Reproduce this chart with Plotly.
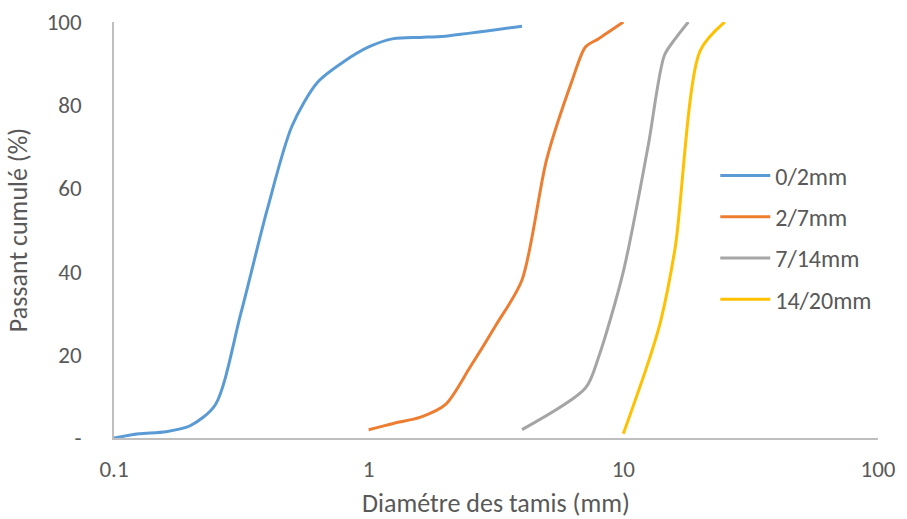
import plotly.graph_objects as go

# Data
sieve_0_2 = [0.1, 0.125, 0.16, 0.2, 0.25, 0.315, 0.4, 0.5, 0.63, 0.8, 1, 1.25, 1.6, 2, 4]
pass_0_2 = [0, 1, 1.5, 3, 8, 30, 55, 75, 85.5, 90.5, 94, 96, 96.3, 96.6, 99]

sieve_2_7 = [1, 1.25, 1.6, 2, 2.5, 3.15, 4, 5, 6.3, 7.1, 8, 10]
pass_2_7 = [2, 3.5, 5, 8, 17, 27, 38, 67, 86, 94, 96, 100]

sieve_7_14 = [4, 7.1, 8, 10, 12.5, 14.5, 16, 18]
pass_7_14 = [2, 12, 19.5, 40, 70, 92, 96, 100]

sieve_14_20 = [10, 12.5, 14, 16, 20, 25]
pass_14_20 = [1, 18, 28, 46, 93, 100]

series_names = ["0/2mm", "2/7mm", "7/14mm", "14/20mm"]
colors = ["#5B9BD5", "#ED7D31", "#A5A5A5", "#FFC000"]

x_tickvals = [0.1, 1, 10, 100]
x_ticktext = ["0.1", "1", "10", "100"]
y_tickvals = [0, 20, 40, 60, 80, 100]
y_ticktext = ["-", "20", "40", "60", "80", "100"]

FONT = "Calibri, Carlito, Lato, sans-serif"
TXT = "#595959"

fig = go.Figure()
for xs, ys, name, c in zip(
    [sieve_0_2, sieve_2_7, sieve_7_14, sieve_14_20],
    [pass_0_2, pass_2_7, pass_7_14, pass_14_20],
    series_names, colors,
):
    fig.add_trace(go.Scatter(
        x=xs, y=ys, name=name, mode="lines", legendgroup=name,
        line=dict(color=c, width=3, shape="spline", smoothing=0.8),
    ))

fig.update_layout(
    width=907, height=519,
    margin=dict(l=114, r=29, t=22, b=81, autoexpand=False),
    paper_bgcolor="white", plot_bgcolor="white",
    font=dict(family=FONT, color=TXT, size=23),
    showlegend=True,
    legend=dict(
        x=0.787, y=0.684, xanchor="left", yanchor="top",
        font=dict(family=FONT, color=TXT, size=24),
        bgcolor="rgba(0,0,0,0)", tracegroupgap=7,
        itemwidth=50,
    ),
    xaxis=dict(
        type="log", range=[-1, 2], automargin=False,
        tickvals=x_tickvals, ticktext=x_ticktext,
        showgrid=False, zeroline=False,
        showline=True, linecolor="#BFBFBF", linewidth=1.5,
        ticks="", ticklabelstandoff=10,
        tickfont=dict(size=23, color=TXT, family=FONT),
        title=dict(text="Diamétre des tamis (mm)", font=dict(size=26, color=TXT, family=FONT), standoff=21),
    ),
    yaxis=dict(
        range=[0, 100], automargin=False,
        tickvals=y_tickvals, ticktext=y_ticktext,
        showgrid=False, zeroline=False,
        showline=True, linecolor="#BFBFBF", linewidth=1.5,
        ticks="", ticklabelstandoff=26,
        tickfont=dict(size=23, color=TXT, family=FONT),
        title=dict(text="Passant cumulé (%)", font=dict(size=26, color=TXT, family=FONT), standoff=12),
    ),
)

fig.write_html(
    "out.html",
    config={"displayModeBar": False},
    post_script="document.body.style.margin='0';",
)
